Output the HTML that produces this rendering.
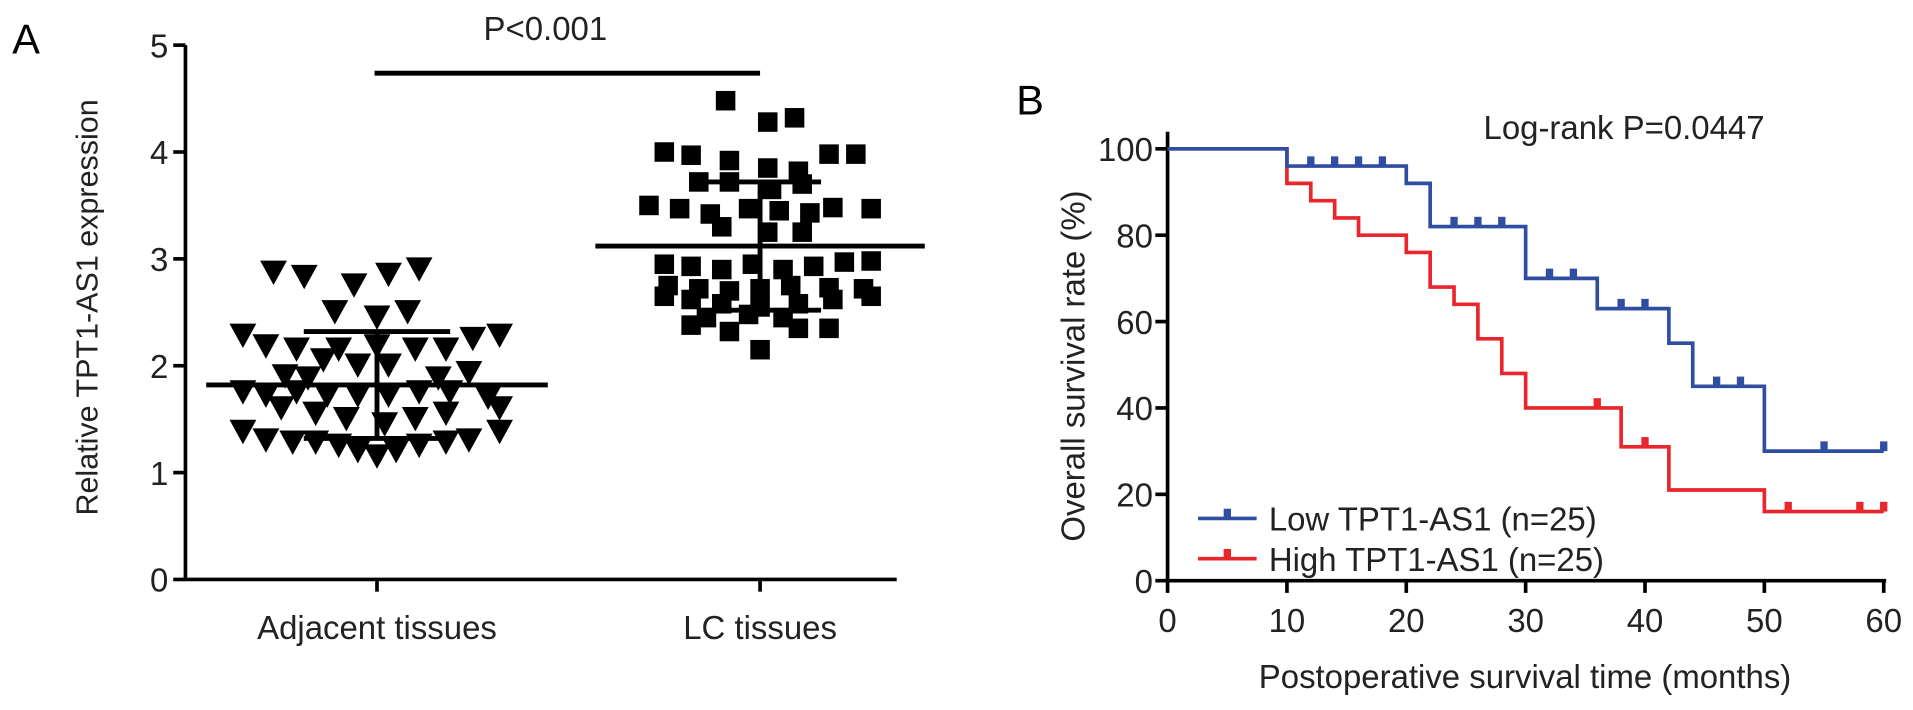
<!DOCTYPE html>
<html><head><meta charset="utf-8"><style>
body{margin:0;background:#fff;}
svg{display:block;font-family:"Liberation Sans",Arial,sans-serif;}
</style></head><body>
<svg id="fig" width="1913" height="710" viewBox="0 0 1568 582" preserveAspectRatio="none">
<g id="pa"></g>
<g id="pb"></g>
</svg>
<script>
// ---------- Panel A data ----------
const groupNames = ["Adjacent tissues", "LC tissues"];
const yTicksA = [0, 1, 2, 3, 4, 5];
const adjValues = [2.87,2.83,2.75,2.85,2.9, 2.5,2.45,2.5, 2.28,2.18,2.15,2.15,2.18,2.15,2.15,2.25,2.28, 2.05,2.0,2.0,1.9,1.88,1.88,1.93, 1.75,1.72,1.75,1.72,1.72,1.72,1.75,1.75,1.7, 1.6,1.55,1.5,1.45,1.5,1.55,1.6, 1.38,1.3,1.28,1.28,1.25,1.2,1.15,1.2,1.25,1.28,1.3,1.38];
const adjJitter = [-0.27,-0.19,-0.06,0.03,0.11, -0.11,0,0.08, -0.35,-0.29,-0.21,-0.1,0,0.1,0.18,0.25,0.32, -0.14,-0.05,0.03,-0.24,-0.18,0.16,0.24, -0.35,-0.29,-0.21,-0.13,-0.05,0.03,0.11,0.19,0.29, -0.25,-0.16,-0.08,0.02,0.1,0.18,0.32, -0.35,-0.29,-0.22,-0.16,-0.1,-0.05,0,0.05,0.11,0.18,0.24,0.32];
const adjStats = [1.82, 0.5]; // mean, sd
const lcValues = [4.48,4.28,4.32, 4.0,3.97,3.92,3.85,3.82,3.98,3.98, 3.72,3.72,3.65,3.7, 3.5,3.47,3.42,3.47,3.45,3.43,3.48,3.47, 3.3,3.25,3.25, 2.95,2.93,2.9,2.95,2.9,2.93,2.97,2.98, 2.75,2.72,2.7,2.72,2.75,2.73,2.72, 2.65,2.62,2.58,2.55,2.58,2.62,2.65, 2.45,2.48,2.45, 2.38,2.32,2.15,2.35,2.35];
const lcJitter = [-0.09,0.02,0.09, -0.25,-0.18,-0.08,0.02,0.1,0.18,0.25, -0.16,-0.08,0.03,0.11, -0.29,-0.21,-0.13,-0.03,0.05,0.13,0.19,0.29, -0.1,0.02,0.11, -0.25,-0.18,-0.1,-0.02,0.06,0.14,0.22,0.29, -0.24,-0.16,-0.08,0,0.08,0.18,0.27, -0.25,-0.18,-0.1,0,0.1,0.19,0.29, -0.14,-0.03,0.06, -0.18,-0.08,0,0.1,0.18];
const lcStats = [3.12, 0.6];
const pText = "P<0.001";

// ---------- Panel B data ----------
const xTicksB = [0,10,20,30,40,50,60];
const yTicksB = [0,20,40,60,80,100];
const lowTimes = [0,10,20,22,30,36,42,44,50,60];
const lowSurv  = [100,96,92,82,70,63,55,45,30,30];
const lowCensorT = [12,14,16,18,24,26,28,32,34,38,40,46,48,55,60];
const highTimes = [0,10,12,14,16,20,22,24,26,28,30,38,42,50,60];
const highSurv  = [100,92,88,84,80,76,68,64,56,48,40,31,21,16,16];
const highCensorT = [36,40,52,58,60];
const legendLabels = ["Low TPT1-AS1 (n=25)", "High TPT1-AS1 (n=25)"];
const logRank = "Log-rank P=0.0447";

const NS = "http://www.w3.org/2000/svg";
function mk(parent, tag, attrs, text){
  const e = document.createElementNS(NS, tag);
  for (const k in attrs) e.setAttribute(k, attrs[k]);
  if (text !== undefined) e.textContent = text;
  parent.appendChild(e);
  return e;
}

// ---------- Panel A ----------
const pa = document.getElementById('pa');
const ax0 = 152, ay0 = 475, ayTop = 37;
const yA = v => ay0 - (v / 5) * (ay0 - ayTop);
const cx = [309, 623];
const catW = 314;
const xA = (g, j) => cx[g] + j * catW;

let t = mk(pa, 'text', {x: 10, y: 44, 'font-size': 34}, 'A');
 
let l = mk(pa, 'line', {x1: ax0, y1: ayTop, x2: ax0, y2: ay0, stroke: '#000', 'stroke-width': 3});
 
l = mk(pa, 'line', {x1: ax0, y1: ay0, x2: 735, y2: ay0, stroke: '#000', 'stroke-width': 3});
 
yTicksA.forEach(v => {
  const y = yA(v);
  const tk = mk(pa, 'line', {x1: ax0 - 10, y1: y, x2: ax0, y2: y, stroke: '#000', 'stroke-width': 3});
   
  const lb = mk(pa, 'text', {x: ax0 - 14, y: y + 10, 'font-size': 27, 'text-anchor': 'end', fill: '#222'}, v);
   
});
groupNames.forEach((n, g) => {
  const tk = mk(pa, 'line', {x1: cx[g], y1: ay0, x2: cx[g], y2: ay0 + 10, stroke: '#000', 'stroke-width': 3});
   
  const lb = mk(pa, 'text', {x: cx[g], y: 524, 'font-size': 27, 'text-anchor': 'middle', fill: '#222'}, n);
   
});
t = mk(pa, 'text', {x: 0, y: 0, 'font-size': 25, 'text-anchor': 'middle', fill: '#222', transform: 'translate(80,252) rotate(-90)'}, 'Relative TPT1-AS1 expression');
 
l = mk(pa, 'line', {x1: cx[0] - 2, y1: 60, x2: cx[1], y2: 60, stroke: '#000', 'stroke-width': 4});
 
t = mk(pa, 'text', {x: 447, y: 33, 'font-size': 27, 'text-anchor': 'middle', fill: '#222'}, pText);
 

adjValues.forEach((v, i) => {
  const x = xA(0, adjJitter[i]), y = yA(v);
  const p = mk(pa, 'polygon', {points: `${x-11},${y-10} ${x+11},${y-10} ${x},${y+10}`, fill: '#000'});
   
});
lcValues.forEach((v, i) => {
  const x = xA(1, lcJitter[i]), y = yA(v);
  const r = mk(pa, 'rect', {x: x - 8, y: y - 8, width: 16, height: 16, fill: '#000'});
   
});
function errBars(g, st, halfMean, halfSd){
  const c = cx[g];
  let e = mk(pa, 'line', {x1: c - halfMean, y1: yA(st[0]), x2: c + halfMean, y2: yA(st[0]), stroke: '#000', 'stroke-width': 4});
   
  e = mk(pa, 'line', {x1: c, y1: yA(st[0] - st[1]), x2: c, y2: yA(st[0] + st[1]), stroke: '#000', 'stroke-width': 4});
   
  [st[0] - st[1], st[0] + st[1]].forEach(v => {
    const c2 = mk(pa, 'line', {x1: c - halfSd, y1: yA(v), x2: c + halfSd, y2: yA(v), stroke: '#000', 'stroke-width': 4});
     
  });
}
errBars(0, adjStats, 140, 60);
errBars(1, lcStats, 135, 50);

// ---------- Panel B ----------
const pb = document.getElementById('pb');
const bx0 = 957, bx1 = 1544, by0 = 476, by1 = 122;
const xB = m => bx0 + m / 60 * (bx1 - bx0);
const yB = s => by0 - s / 100 * (by0 - by1);

t = mk(pb, 'text', {x: 833, y: 94, 'font-size': 34}, 'B');
 
l = mk(pb, 'line', {x1: bx0, y1: 108, x2: bx0, y2: by0, stroke: '#000', 'stroke-width': 3});
 
l = mk(pb, 'line', {x1: bx0, y1: by0, x2: bx1 + 2, y2: by0, stroke: '#000', 'stroke-width': 3});
 
yTicksB.forEach(v => {
  const y = yB(v);
  const tk = mk(pb, 'line', {x1: bx0 - 10, y1: y, x2: bx0, y2: y, stroke: '#000', 'stroke-width': 3});
   
  const lb = mk(pb, 'text', {x: bx0 - 12, y: y + 10, 'font-size': 27, 'text-anchor': 'end', fill: '#222'}, v);
   
});
xTicksB.forEach(v => {
  const x = xB(v);
  const tk = mk(pb, 'line', {x1: x, y1: by0, x2: x, y2: by0 + 10, stroke: '#000', 'stroke-width': 3});
   
  const lb = mk(pb, 'text', {x: x, y: 518, 'font-size': 27, 'text-anchor': 'middle', fill: '#222'}, v);
   
});
t = mk(pb, 'text', {x: 1250, y: 564, 'font-size': 27, 'text-anchor': 'middle', fill: '#222'}, 'Postoperative survival time (months)');
 
t = mk(pb, 'text', {x: 0, y: 0, 'font-size': 27, 'text-anchor': 'middle', fill: '#222', transform: 'translate(889,300) rotate(-90)'}, 'Overall survival rate (%)');
 
t = mk(pb, 'text', {x: 1216, y: 114, 'font-size': 27, fill: '#222'}, logRank);
 

function stepPath(times, surv){
  let d = `M${xB(times[0])},${yB(surv[0])}`;
  for (let i = 1; i < times.length; i++) {
    d += ` H${xB(times[i])} V${yB(surv[i])}`;
  }
  return d;
}
function survAt(times, surv, tm){
  let s = surv[0];
  for (let i = 0; i < times.length; i++) if (times[i] <= tm) s = surv[i];
  return s;
}
function drawCurve(times, surv, cens, color, name){
  const p = mk(pb, 'path', {d: stepPath(times, surv), fill: 'none', stroke: color, 'stroke-width': 3});
   
  cens.forEach(tm => {
    const x = xB(tm), y = yB(survAt(times, surv, tm));
    const c = mk(pb, 'rect', {x: x - 3, y: y - 8, width: 6, height: 8, fill: color});
     
  });
}
drawCurve(highTimes, highSurv, highCensorT, '#e8262b', 'high-tpt1');
drawCurve(lowTimes, lowSurv, lowCensorT, '#2f4ea2', 'low-tpt1');

const legColors = ['#2f4ea2', '#e8262b'];
const legY = [425, 458];
legendLabels.forEach((lab, i) => {
  const g = mk(pb, 'g', {});
   
  mk(g, 'line', {x1: 982, y1: legY[i], x2: 1030, y2: legY[i], stroke: legColors[i], 'stroke-width': 3});
  mk(g, 'rect', {x: 1003, y: legY[i] - 8, width: 6, height: 8, fill: legColors[i]});
  mk(g, 'text', {x: 1040, y: legY[i] + 10, 'font-size': 27, fill: '#222'}, lab);
});
</script>
</body></html>
